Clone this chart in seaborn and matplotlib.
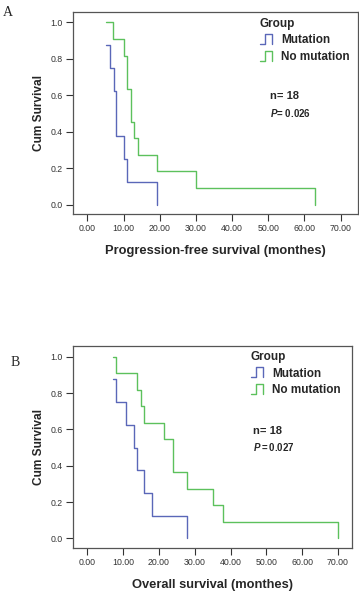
import pandas as pd
import matplotlib
matplotlib.use("Agg")
import matplotlib.pyplot as plt
import seaborn as sns
from matplotlib.lines import Line2D
from matplotlib.legend_handler import HandlerBase

# Panel A: progression-free survival (Kaplan-Meier steps)
pfs_mut_time = [5.2, 6.1, 7.2, 8.0, 10.0, 11.0, 19.2]
pfs_mut_surv = [0.875, 0.75, 0.625, 0.375, 0.25, 0.125, 0.0]
pfs_nomut_time = [5.2, 7.0, 10.0, 11.0, 12.0, 13.0, 14.0, 19.2, 30.0, 63.0]
pfs_nomut_surv = [1.0, 0.909, 0.818, 0.636, 0.455, 0.364, 0.273, 0.182, 0.091, 0.0]

# Panel B: overall survival
os_mut_time = [7.3, 7.9, 10.8, 12.9, 14.0, 15.7, 18.0, 27.9]
os_mut_surv = [0.875, 0.75, 0.625, 0.5, 0.375, 0.25, 0.125, 0.0]
os_nomut_time = [7.1, 7.9, 14.0, 14.9, 15.8, 21.5, 23.9, 27.9, 35.0, 38.0, 70.0]
os_nomut_surv = [1.0, 0.909, 0.818, 0.727, 0.636, 0.545, 0.364, 0.273, 0.182, 0.091, 0.0]

groups = ["Mutation", "No mutation"]
palette = {"Mutation": "#5a67b8", "No mutation": "#5cc15c"}
xticks = [0, 10, 20, 30, 40, 50, 60, 70]
yticks = [0.0, 0.2, 0.4, 0.6, 0.8, 1.0]


def make_df(t1, s1, t2, s2):
    a = pd.DataFrame({"time": t1, "surv": s1, "group": groups[0]})
    b = pd.DataFrame({"time": t2, "surv": s2, "group": groups[1]})
    return pd.concat([a, b], ignore_index=True)


class StepHandler(HandlerBase):
    # little step icon like the SPSS legend
    def create_artists(self, legend, orig_handle, xdescent, ydescent,
                       width, height, fontsize, trans):
        x0 = -xdescent
        y0 = -ydescent
        xs = [x0, x0 + 0.45 * width, x0 + 0.45 * width, x0 + width, x0 + width]
        ys = [y0, y0, y0 + 1.1 * height, y0 + 1.1 * height, y0]
        ln = Line2D(xs, ys, color=orig_handle.get_color(), lw=1.0, transform=trans)
        return [ln]


sns.set_style("ticks")
plt.rcParams["font.family"] = ["Liberation Sans", "DejaVu Sans"]
plt.rcParams["mathtext.fontset"] = "custom"
plt.rcParams["mathtext.it"] = "Liberation Sans:italic:bold"
plt.rcParams["mathtext.rm"] = "Liberation Sans:bold"

fig = plt.figure(figsize=(3.59, 5.92), dpi=100)
ax_a = fig.add_axes([73 / 359, 1 - 214 / 592, 285 / 359, 202 / 592])
ax_b = fig.add_axes([73 / 359, 1 - 548 / 592, 279 / 359, 202 / 592])

panels = [
    (ax_a, make_df(pfs_mut_time, pfs_mut_surv, pfs_nomut_time, pfs_nomut_surv),
     "Progression-free survival (monthes)", (-4.0, 74.8), (-0.052, 1.057),
     (0.656, 0.972), "n= 18", r"$\mathit{P}$= 0.026", (0.691, 0.584, 0.499)),
    (ax_b, make_df(os_mut_time, os_mut_surv, os_nomut_time, os_nomut_surv),
     "Overall survival (monthes)", (-4.0, 73.9), (-0.053, 1.059),
     (0.637, 0.975), "n= 18", r"$\mathit{P=0.027}$", (0.645, 0.581, 0.501)),
]

for ax, df, xlabel, xlim, ylim, leg_pos, ntxt, ptxt, txt_pos in panels:
    sns.lineplot(data=df, x="time", y="surv", hue="group", palette=palette,
                 drawstyle="steps-post", estimator=None, sort=False,
                 legend=False, lw=1.0, ax=ax)
    ax.set_xlim(*xlim)
    ax.set_ylim(*ylim)
    ax.set_xticks(xticks)
    ax.set_xticklabels([f"{v:.2f}" for v in xticks])
    ax.set_yticks(yticks)
    ax.set_yticklabels([f"{v:.1f}" for v in yticks])
    ax.tick_params(labelsize=6.3, length=5, width=0.8, pad=2.5, colors="#333333")
    for sp in ax.spines.values():
        sp.set_visible(True)
        sp.set_color("#555555")
        sp.set_linewidth(0.9)
    ax.set_xlabel(xlabel, fontsize=9.3, fontweight="bold", labelpad=8)
    ax.set_ylabel("Cum Survival", fontsize=8.6, fontweight="bold", labelpad=4)

    handles = [Line2D([], [], color=palette[g]) for g in groups]
    ax.legend(handles, groups, handler_map={Line2D: StepHandler()},
              loc="upper left", bbox_to_anchor=leg_pos, frameon=False,
              title="Group", alignment="left", borderpad=0, borderaxespad=0,
              handlelength=1.0, handleheight=0.8, handletextpad=0.8,
              labelspacing=0.4,
              prop={"size": 8.5, "weight": "bold"},
              title_fontproperties={"size": 8.5, "weight": "bold"})

    ax.text(txt_pos[0], txt_pos[1], ntxt, transform=ax.transAxes,
            fontsize=8, fontweight="bold", va="center", ha="left")
    ax.text(txt_pos[0], txt_pos[2], ptxt, transform=ax.transAxes,
            fontsize=7, fontweight="bold", va="center", ha="left")

fig.text(8 / 359, 1 - 12.5 / 592, "A", family="Liberation Serif", fontsize=10,
         ha="center", va="center")
fig.text(15 / 359, 1 - 363 / 592, "B", family="Liberation Serif", fontsize=10,
         ha="center", va="center")

fig.savefig("out.png", dpi=100)
